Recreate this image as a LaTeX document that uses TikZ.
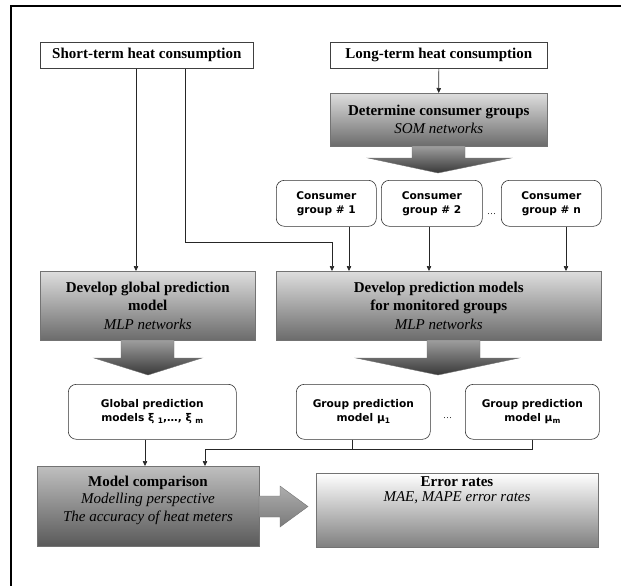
\documentclass[tikz,border=0pt]{standalone}
\usepackage{fontspec}
\setmainfont{Liberation Serif}
\newfontfamily\vfont{DejaVu Sans}
\usetikzlibrary{arrows.meta}
\newcommand{\sbs}[1]{\raisebox{-0.35ex}{\fontsize{7.5}{8}\selectfont #1}}
\begin{document}
\begin{tikzpicture}[x=1pt,y=-1pt,
  plainbox/.style={draw=black!75, line width=0.6pt, fill=white, inner sep=0pt, anchor=north west,
     font=\fontsize{15}{18}\selectfont\bfseries},
  gbox/.style={draw=black!55, line width=0.5pt, top color=black!13, bottom color=black!58,
     inner sep=0pt, anchor=north west, align=center, font=\fontsize{15}{18.3}\selectfont\bfseries},
  rbox/.style={draw=black!80, line width=0.6pt, rounded corners=8pt, fill=white, inner sep=0pt,
     anchor=north west, align=center, font=\vfont\fontsize{10.6}{14}\selectfont\bfseries},
  txt/.style={align=center, inner sep=0pt, font=\fontsize{15}{17.5}\selectfont\bfseries},
  conn/.style={draw=black!85, line width=0.6pt},
  arr/.style={conn, -{Triangle[length=5pt,width=4.5pt]}},
  bigarrow/.style={draw=black!55, line width=0.4pt, top color=black!38, bottom color=black!78},
  sidearrow/.style={draw=black!55, line width=0.4pt, top color=black!32, bottom color=black!52},
  dots/.style={inner sep=0pt, font=\fontsize{9}{9}\selectfont}
]
\useasboundingbox (0,0) rectangle (621,586);
% outer frame (top and left edges visible)
\draw[line width=2pt] (11,586) -- (11,6) -- (621,6);

% top row
\node[plainbox, minimum width=213pt, minimum height=26pt] (short) at (40,42) {Short-term heat consumption};
\node[plainbox, minimum width=217pt, minimum height=26pt] (long) at (330,42) {Long-term heat consumption};
\node[gbox, minimum width=217pt, minimum height=53pt, font=\fontsize{15}{18}\selectfont\bfseries] (det) at (330,93)
  {Determine consumer groups\\ \textit{\mdseries SOM networks}};

% big arrow under det
\draw[bigarrow] (412,146) -- (412,158) -- (368,158) -- (438,173) -- (511,158) -- (465,158) -- (465,146) -- cycle;

% consumer groups
\node[rbox, minimum width=100pt, minimum height=46pt] (c1) at (276,180) {Consumer\\group \# 1};
\node[rbox, minimum width=101pt, minimum height=46pt] (c2) at (381,180) {Consumer\\group \# 2};
\node[rbox, minimum width=100pt, minimum height=46pt] (c3) at (501,180) {Consumer\\group \# n};
\node[dots] (d1) at (491.5,214) {\dots};

% develop boxes
\node[gbox, minimum width=215pt, minimum height=69pt] (dgm) at (40,271)
  {Develop global prediction\\model\\ \textit{\mdseries MLP networks}};
\node[gbox, minimum width=325pt, minimum height=69pt] (dpm) at (276,271)
  {Develop prediction models\\for monitored groups\\ \textit{\mdseries MLP networks}};

% big arrows under develop boxes
\draw[bigarrow] (121,340) -- (121,358) -- (94,358) -- (148,375) -- (202,358) -- (174,358) -- (174,340) -- cycle;
\draw[bigarrow] (427,340) -- (427,358) -- (356,358) -- (438,375) -- (519,358) -- (480,358) -- (480,340) -- cycle;

% prediction models
\node[rbox, minimum width=168pt, minimum height=55pt] (gpm) at (68,384)
  {Global prediction\\models ξ \sbs{1},…, ξ \sbs{m}};
\node[rbox, minimum width=134pt, minimum height=55pt] (gm1) at (296,384)
  {Group prediction\\model μ\sbs{1}};
\node[rbox, minimum width=134pt, minimum height=55pt] (gmm) at (465,384)
  {Group prediction\\model μ\sbs{m}};
\node[dots] (d2) at (447.5,418) {\dots};

% bottom boxes
\node[gbox, minimum width=222pt, minimum height=80pt, top color=black!25, bottom color=black!65] (mc) at (37,466) {};
\node[txt] (mct) at (148,500) {Model comparison\\ \textit{\mdseries Modelling perspective}\\ \textit{\mdseries The accuracy of heat meters}};
\node[gbox, minimum width=282pt, minimum height=74pt, top color=white, bottom color=black!50] (er) at (316,473) {};
\node[txt, font=\fontsize{15}{15.5}\selectfont\bfseries] (ert) at (457,490) {Error rates\\ \textit{\mdseries MAE, MAPE error rates}};

% side arrow
\draw[sidearrow] (259,496) -- (280,496) -- (280,486) -- (308,506.5) -- (280,527) -- (280,517) -- (259,517) -- cycle;

% connectors
\draw[arr] (long.south) -- (det.north);
\draw[arr] ([xshift=96pt]short.south west) -- ([xshift=96pt]dgm.north west);
\draw[arr] ([xshift=145pt]short.south west) -- ++(0,174) -| ([xshift=56pt]dpm.north west);
\draw[arr] ([xshift=73pt]c1.south west) -- ([xshift=73pt]dpm.north west);
\draw[arr] ([xshift=48pt]c2.south west) -- ([xshift=153pt]dpm.north west);
\draw[arr] ([xshift=65pt]c3.south west) -- ([xshift=290pt]dpm.north west);
\draw[arr] ([xshift=77pt]gpm.south west) -- ([xshift=108pt]mc.north west);
\draw[conn] ([xshift=56pt]gm1.south west) -- ++(0,10);
\draw[arr] (gmm.south) -- ++(0,10) -| ([xshift=168pt]mc.north west);
\end{tikzpicture}
\end{document}
